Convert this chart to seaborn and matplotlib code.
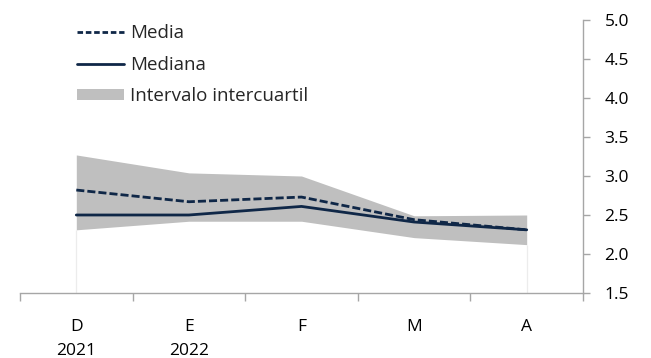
import matplotlib
matplotlib.use("Agg")
import matplotlib.pyplot as plt
import seaborn as sns
import pandas as pd
from matplotlib.patches import Patch
from matplotlib.lines import Line2D

# Survey expectations by month
months = ["D\n2021", "E\n2022", "F", "M", "A"]
media = [2.82, 2.67, 2.73, 2.44, 2.31]
mediana = [2.50, 2.50, 2.61, 2.41, 2.31]
q_low = [2.31, 2.42, 2.42, 2.21, 2.12]
q_high = [3.27, 3.04, 3.00, 2.49, 2.50]
y_ticks = [1.5, 2.0, 2.5, 3.0, 3.5, 4.0, 4.5, 5.0]

sns.set_theme(style="white")
plt.rcParams["font.family"] = ["Open Sans", "DejaVu Sans"]

navy = "#0f2747"
band = "#bfbfbf"
axis_grey = "#a6a6a6"

df = pd.DataFrame({"x": range(len(months)), "media": media, "mediana": mediana})

fig = plt.figure(figsize=(6.51, 3.58), dpi=100)
ax = fig.add_axes([20 / 651, 65 / 358, 563 / 651, 273 / 358])

# interquartile band, with its faint edges down to the base
ax.fill_between(df["x"], q_low, q_high, color=band, linewidth=0, zorder=1)
ax.vlines([df["x"].iloc[0], df["x"].iloc[-1]], 1.5, [q_low[0], q_low[-1]],
          color="#ececec", linewidth=0.9, zorder=0.5)

sns.lineplot(data=df, x="x", y="mediana", ax=ax, color=navy, linewidth=2.0, zorder=3)
sns.lineplot(data=df, x="x", y="media", ax=ax, color=navy, linewidth=2.0,
             dashes=False, zorder=4)
ax.lines[-1].set_dashes((2.9, 1.1))

ax.set_xlim(-0.5, len(months) - 0.5)
ax.set_ylim(1.5, 5.0)
ax.set_xlabel("")
ax.set_ylabel("")

# y axis on the right
ax.yaxis.tick_right()
ax.set_yticks(y_ticks)
ax.set_yticklabels([f"{v:.1f}" for v in y_ticks])

# category labels centred, tick marks between categories
ax.set_xticks(range(len(months)))
ax.set_xticklabels(months, linespacing=1.72)
ax.set_xticks([i - 0.5 for i in range(len(months) + 1)], minor=True)
ax.tick_params(axis="x", which="major", length=0, pad=18.5, labelsize=12.5, colors="black")
ax.tick_params(axis="x", which="minor", length=6, width=1, color=axis_grey, direction="out",
               bottom=True)
ax.tick_params(axis="y", which="major", length=5, width=1, color=axis_grey, direction="out",
               right=True, left=False, pad=10.5, labelsize=12.5, labelcolor="black")

for side in ["top", "left"]:
    ax.spines[side].set_visible(False)
for side in ["bottom", "right"]:
    ax.spines[side].set_color(axis_grey)
    ax.spines[side].set_linewidth(1.0)

handles = [
    Line2D([], [], color=navy, linewidth=2.0, dashes=(2.0, 1.0)),
    Line2D([], [], color=navy, linewidth=2.0),
    Patch(facecolor=band, edgecolor="none"),
]
labels = ["Media", "Mediana", "Intervalo intercuartil"]
fig.legend(handles, labels, loc="upper left", bbox_to_anchor=(77 / 651, 1 - 24 / 358),
           frameon=False, fontsize=13.5, handlelength=2.5, handleheight=0.5,
           handletextpad=0.32, labelspacing=0.72, borderaxespad=0, borderpad=0)

fig.savefig("out.png", dpi=100)
